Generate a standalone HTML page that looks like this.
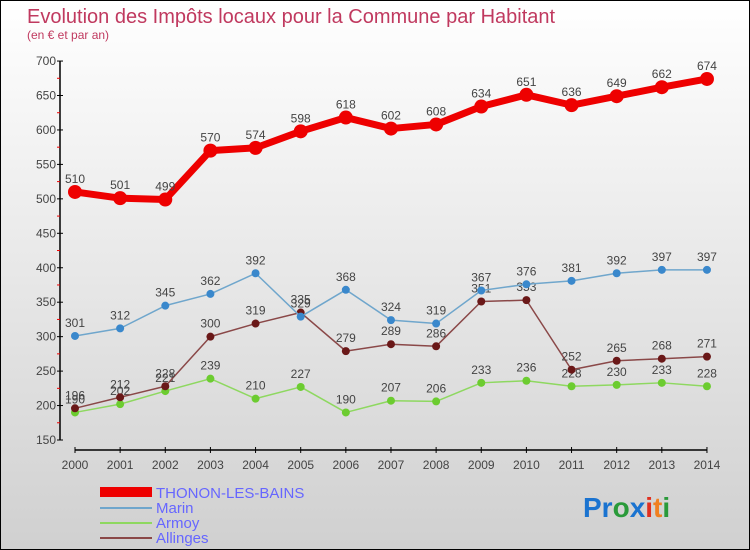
<!DOCTYPE html>
<html><head><meta charset="utf-8"><style>
body{margin:0}
#wrap{position:relative;width:748px;height:548px;border:1px solid #000;background:linear-gradient(#ffffff,#d0d0d0);font-family:"Liberation Sans",sans-serif;overflow:hidden}
</style></head><body>
<div id="wrap">
<svg id="c" width="748" height="548" xmlns="http://www.w3.org/2000/svg">
<text x="26" y="22" font-size="20" fill="#c0395f">Evolution des Impôts locaux pour la Commune par Habitant</text>
<text x="26" y="38" font-size="12" fill="#c0395f">(en € et par an)</text>
<g id="axes"></g><g id="series"></g>
<g>
<rect x="99" y="486" width="52" height="10" fill="#e00"/>
<text x="155" y="497" font-size="15" fill="#6666ff">THONON-LES-BAINS</text>
<line x1="99" y1="507" x2="151" y2="507" stroke="#6fa6cc" stroke-width="2"/>
<text x="155" y="512" font-size="15" fill="#6666ff">Marin</text>
<line x1="99" y1="522" x2="151" y2="522" stroke="#8ed860" stroke-width="2"/>
<text x="155" y="527" font-size="15" fill="#6666ff">Armoy</text>
<line x1="99" y1="537" x2="151" y2="537" stroke="#8a4848" stroke-width="2"/>
<text x="155" y="542" font-size="15" fill="#6666ff">Allinges</text>
</g>
<g font-size="28" font-weight="bold">
<text x="582" y="516"><tspan fill="#1a73d0">Pr</tspan><tspan fill="#2a9a3a">o</tspan><tspan fill="#1a73d0">x</tspan><tspan fill="#e03020">i</tspan><tspan fill="#f08020">t</tspan><tspan fill="#2a9a3a">i</tspan></text>
</g>
</svg>
</div>
<script>
const years=[2000,2001,2002,2003,2004,2005,2006,2007,2008,2009,2010,2011,2012,2013,2014];
const thonon=[510,501,499,570,574,598,618,602,608,634,651,636,649,662,674];
const marin=[301,312,345,362,392,329,368,324,319,367,376,381,392,397,397];
const armoy=[190,202,221,239,210,227,190,207,206,233,236,228,230,233,228];
const allinges=[196,212,228,300,319,335,279,289,286,351,353,252,265,268,271];
const yTicks=[150,200,250,300,350,400,450,500,550,600,650,700];
const NS="http://www.w3.org/2000/svg";
const X=i=>74+i*45.14;
const Y=v=>439-(v-150)*0.689;
function mk(t,a,p){const e=document.createElementNS(NS,t);for(const k in a)e.setAttribute(k,a[k]);p.appendChild(e);return e;}
const ax=document.getElementById('axes');
let yl=mk('line',{x1:59,y1:Y(700),x2:59,y2:Y(150),stroke:'#000','stroke-width':1.5},ax);


yTicks.forEach(v=>{
  mk('line',{x1:56,y1:Y(v),x2:62,y2:Y(v),stroke:'#000'},ax);
  if(v<700)mk('line',{x1:56,y1:Y(v+25),x2:59,y2:Y(v+25),stroke:'#e00'},ax);
  const t=mk('text',{x:55,y:Y(v)+4,'font-size':12,fill:'#444','text-anchor':'end'},ax);
  t.textContent=v;
  
  
});
let xl=mk('line',{x1:X(0),y1:449,x2:X(14),y2:449,stroke:'#000','stroke-width':1.5},ax);


years.forEach((y,i)=>{
  mk('line',{x1:X(i),y1:446,x2:X(i),y2:452,stroke:'#000'},ax);
  const t=mk('text',{x:X(i),y:468,'font-size':12,fill:'#444','text-anchor':'middle'},ax);
  t.textContent=y;
  
  
});
const sg=document.getElementById('series');
function draw(data,name,color,dot,w,r){
  const g=mk('g',{},sg);
  
  
  const pl=mk('polyline',{points:data.map((v,i)=>X(i)+','+Y(v)).join(' '),fill:'none',stroke:color,'stroke-width':w,'stroke-linejoin':'round'},g);
  
  
  data.forEach((v,i)=>{
    const c=mk('circle',{cx:X(i),cy:Y(v),r:r,fill:dot},g);
    
    
    const t=mk('text',{x:X(i),y:Y(v)-9,'font-size':12,fill:'#444','text-anchor':'middle'},g);
    t.textContent=v;
    
    
  });
}
draw(armoy,'armoy','#8ed860','#6ccc30',1.5,4);
draw(allinges,'allinges','#8a4848','#6a1818',1.5,4);
draw(marin,'marin','#6fa6cc','#3a88cc',1.5,4);
draw(thonon,'thonon','#e00','#e00',7,7);
</script>
</body></html>
